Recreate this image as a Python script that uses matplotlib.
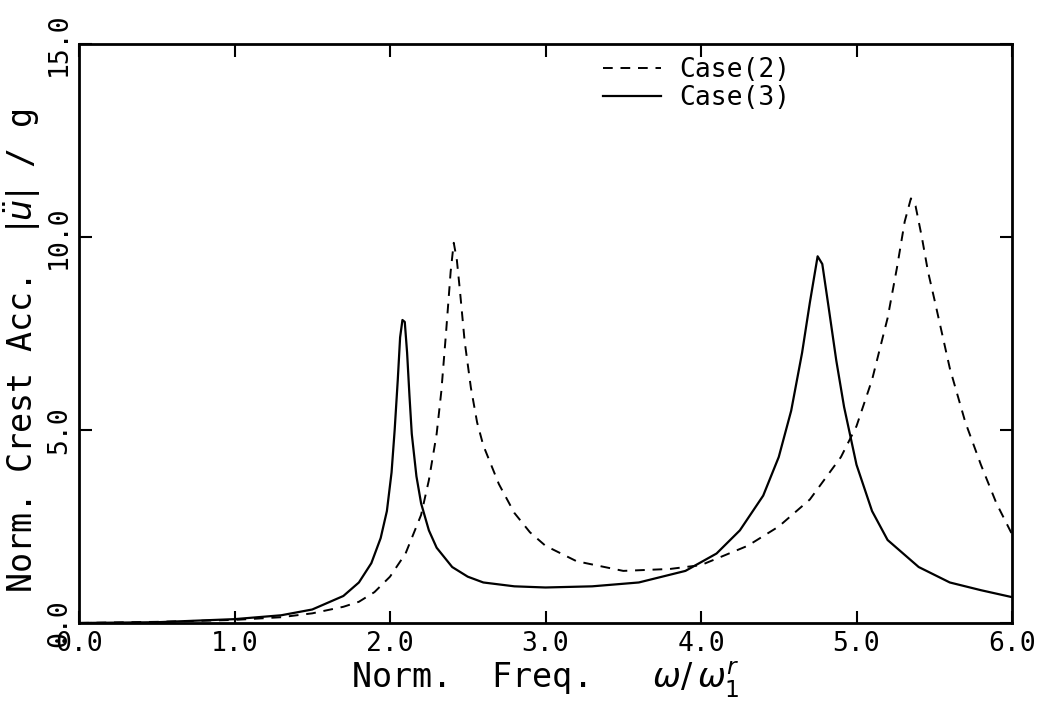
import numpy as np
import matplotlib
matplotlib.use("Agg")
import matplotlib.pyplot as plt

# ── data ─────────────────────────────────────────────────────
case2_x = [0.0, 0.5, 1.0, 1.3, 1.5, 1.7, 1.8, 1.9, 2.0, 2.1, 2.2, 2.25, 2.3,
           2.33, 2.36, 2.39, 2.41, 2.43, 2.45, 2.48, 2.52, 2.56, 2.6, 2.7,
           2.8, 2.9, 3.0, 3.2, 3.5, 3.8, 4.0, 4.3, 4.5, 4.7, 4.9, 5.0, 5.1,
           5.2, 5.26, 5.31, 5.35, 5.38, 5.42, 5.46, 5.5, 5.6, 5.7, 5.8, 5.9,
           6.0]
case2_y = [0.0, 0.03, 0.08, 0.15, 0.25, 0.42, 0.55, 0.8, 1.2, 1.8, 2.8, 3.7,
           4.9, 6.0, 7.5, 9.1, 9.85, 9.4, 8.6, 7.3, 6.1, 5.2, 4.6, 3.6, 2.85,
           2.35, 2.0, 1.6, 1.35, 1.4, 1.5, 2.0, 2.5, 3.2, 4.3, 5.1, 6.3, 7.9,
           9.2, 10.4, 11.0, 10.8, 10.0, 9.1, 8.4, 6.6, 5.2, 4.1, 3.1, 2.3]

case3_x = [0.0, 0.5, 1.0, 1.3, 1.5, 1.7, 1.8, 1.88, 1.94, 1.98, 2.01, 2.03,
           2.05, 2.065, 2.08, 2.095, 2.11, 2.125, 2.14, 2.17, 2.2, 2.25, 2.3,
           2.4, 2.5, 2.6, 2.8, 3.0, 3.3, 3.6, 3.9, 4.1, 4.25, 4.4, 4.5, 4.58,
           4.65, 4.7, 4.75, 4.78, 4.82, 4.87, 4.92, 5.0, 5.1, 5.2, 5.4, 5.6,
           5.8, 6.0]
case3_y = [0.0, 0.02, 0.1, 0.2, 0.35, 0.7, 1.05, 1.55, 2.2, 2.9, 3.9, 5.0,
           6.3, 7.4, 7.85, 7.8, 7.0, 5.9, 4.9, 3.8, 3.1, 2.4, 1.95, 1.45, 1.2,
           1.05, 0.95, 0.92, 0.95, 1.05, 1.35, 1.8, 2.4, 3.3, 4.3, 5.5, 7.0,
           8.3, 9.5, 9.3, 8.2, 6.8, 5.6, 4.1, 2.9, 2.15, 1.45, 1.05, 0.85,
           0.67]

x_ticks = [0.0, 1.0, 2.0, 3.0, 4.0, 5.0, 6.0]
y_ticks = [0.0, 5.0, 10.0, 15.0]

plt.rcParams["font.family"] = ["DejaVu Sans Mono", "DejaVu Sans"]
plt.rcParams["mathtext.fontset"] = "dejavusans"

fig = plt.figure(figsize=(10.43, 7.11), dpi=100)
ax = fig.add_axes([79 / 1043, 1 - 623 / 711, 933 / 1043, 579 / 711])

ax.plot(case2_x, case2_y, color="black", linewidth=1.4, dashes=(5, 4), label="Case(2)")
ax.plot(case3_x, case3_y, color="black", linewidth=1.6, label="Case(3)")

ax.set_xlim(0, 6)
ax.set_ylim(0, 15)
ax.set_xticks(x_ticks)
ax.set_yticks(y_ticks)
ax.set_xticklabels([f"{v:.1f}" for v in x_ticks], fontsize=19)
ax.set_yticklabels([f"{v:.1f}" for v in y_ticks], fontsize=19, rotation=90, va="center")
ax.tick_params(direction="in", length=9, width=1.5, top=True, right=True)
ax.tick_params(axis="x", pad=6)
ax.tick_params(axis="y", pad=5)
for s in ax.spines.values():
    s.set_linewidth(2)

ax.set_xlabel(r"Norm.  Freq.   $\omega/\,\omega_1^r$", fontsize=24, labelpad=2)
ax.set_ylabel(r"Norm. Crest Acc.  $|\ddot{u}|$ / g", fontsize=24, va="center")
ax.yaxis.set_label_coords(-0.061, 0.47)

ax.legend(frameon=False, loc="upper left", bbox_to_anchor=(0.55, 0.995),
          fontsize=19, handlelength=2.2, handletextpad=0.7, labelspacing=0.05,
          borderaxespad=0)

fig.savefig("out.png", dpi=100)
